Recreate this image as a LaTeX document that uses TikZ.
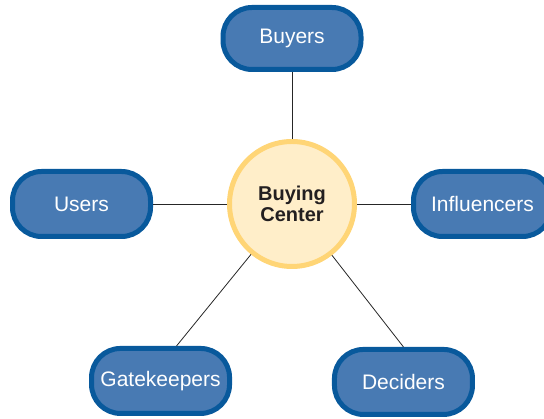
\documentclass[tikz,border=0pt]{standalone}
\usepackage{fontspec}
\setmainfont{Liberation Sans}
\usetikzlibrary{positioning}
\definecolor{rolefill}{RGB}{72,122,179}
\definecolor{roledraw}{RGB}{8,89,156}
\definecolor{hubfill}{RGB}{255,238,201}
\definecolor{hubdraw}{RGB}{255,213,118}
\definecolor{hubtext}{RGB}{35,31,32}
\tikzset{
  rolebox/.style={
    draw=roledraw,
    fill=rolefill,
    line width=5pt,
    rounded corners=29pt,
    minimum width=138pt,
    minimum height=65pt,
    inner sep=0pt,
    text=white,
    font=\fontsize{21}{24}\selectfont
  },
  hubcircle/.style={
    circle,
    draw=hubdraw,
    fill=hubfill,
    line width=5pt,
    minimum size=125pt,
    inner sep=0pt,
    align=center,
    text=hubtext,
    font=\fontsize{20}{21}\selectfont\bfseries
  },
  spoke/.style={line width=0.8pt,draw=black!85}
}

\begin{document}
\begin{tikzpicture}
  \clip (0pt,0pt) rectangle (544pt,419pt);
      \node[hubcircle] (hub) at (292pt,215pt) {Buying\\Center};
      \node[rolebox,minimum height=62pt,above=67pt of hub] (buyers) {Buyers};
      \node[rolebox,left=74pt of hub] (users) {Users};
      \node[rolebox,right=54pt of hub] (influencers) {Influencers};
      \node[rolebox,below left=96pt and 14pt of hub] (gatekeepers) {Gatekeepers};
      \node[rolebox,below right=97pt and -6pt of hub] (deciders) {Deciders};
      \draw[spoke] (hub) -- (buyers);
      \draw[spoke] (hub) -- (users);
      \draw[spoke] (hub) -- (influencers);
      \draw[spoke] (hub) -- ([xshift=16pt]gatekeepers.north);
      \draw[spoke] (hub) -- (deciders.north);
    \end{tikzpicture}
\end{document}
